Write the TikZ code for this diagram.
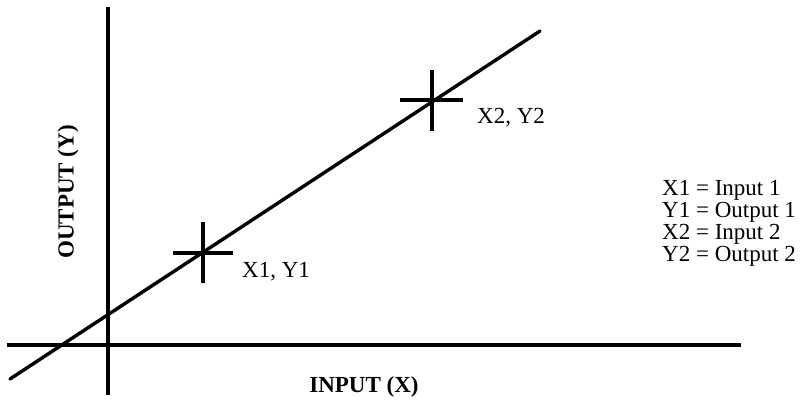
\documentclass[tikz,border=0pt]{standalone}
\usepackage{fontspec}
\setmainfont{Liberation Serif}
\usetikzlibrary{positioning,calc}
\tikzset{
  axis/.style={line width=3.6pt},
  trend/.style={line width=3.4pt,line cap=round},
  crossbar/.style={line width=3.2pt},
  ptlabel/.style={font=\fontsize{23}{22}\selectfont,inner sep=0pt,anchor=base west},
  axlabel/.style={font=\fontsize{23}{22}\selectfont\bfseries,inner sep=0pt},
  keytext/.style={font=\fontsize{23}{22}\selectfont,inner sep=0pt,anchor=base west},
}

\begin{document}
\begin{tikzpicture}[x=1pt,y=-1pt]
  \useasboundingbox (0,0) rectangle (807,406);
  % axes
  \coordinate (yTop) at (108,7);
  \coordinate (yBot) at (108,395);
  \coordinate (xLeft) at (7,345);
  \coordinate (xRight) at (741,345);
  \draw[axis] (yTop) -- (yBot);
  \draw[axis] (xLeft) -- (xRight);
  % straight line through both points
  \coordinate (lineStart) at (10,379);
  \coordinate (lineEnd) at (540,31);
  \draw[trend] (lineStart) -- (lineEnd);
  % the two measured points
  \coordinate (P1) at (203,253);
  \coordinate (P2) at (432,100);
  \draw[crossbar] (P1) ++(-30,0) -- ++(60,0) (P1) ++(0,-31) -- ++(0,61);
  \draw[crossbar] (P2) ++(-32,0) -- ++(63,0) (P2) ++(0,-30) -- ++(0,61);
  \node[ptlabel] (p1lbl) at ($(P1)+(39,24.6)$) {X1, Y1};
  \node[ptlabel] (p2lbl) at ($(P2)+(45,23.6)$) {X2, Y2};
  % axis titles
  \node[axlabel,rotate=90] (ylbl) at (68,192) {OUTPUT (Y)};
  \node[axlabel] (xlbl) at (364,387) {INPUT (X)};
  % key
  \node[keytext] (key1) at (662,195.5) {X1 = Input 1};
  \node[keytext] (key2) at ($(key1.base west)+(0,22)$) {Y1 = Output 1};
  \node[keytext] (key3) at ($(key2.base west)+(0,22)$) {X2 = Input 2};
  \node[keytext] (key4) at ($(key3.base west)+(0,22)$) {Y2 = Output 2};
\end{tikzpicture}
\end{document}
